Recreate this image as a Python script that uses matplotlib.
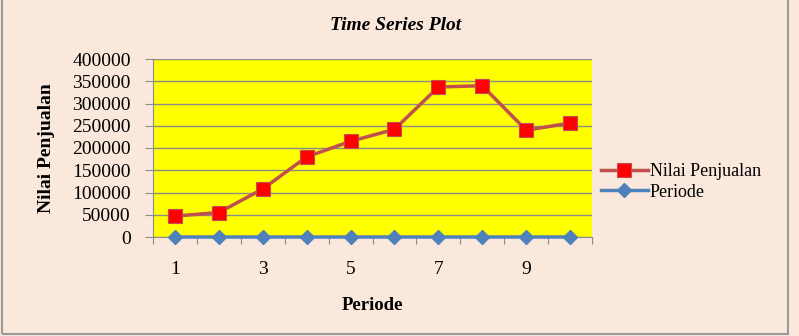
import matplotlib.pyplot as plt
from matplotlib.patches import Rectangle

periode = [1, 2, 3, 4, 5, 6, 7, 8, 9, 10]
nilai_penjualan = [47000, 55000, 108000, 180000, 215000, 242000, 337000, 340000, 240000, 256000]
xtick_labels = ['1', '3', '5', '7', '9']
yticks = [0, 50000, 100000, 150000, 200000, 250000, 300000, 350000, 400000]

plt.rcParams['font.family'] = ['Liberation Serif', 'DejaVu Serif']

bg = '#fbe8dc'
fig = plt.figure(figsize=(7.99, 3.36), dpi=100, facecolor=bg)
ax = fig.add_axes([153/799, 1-237/336, (592-153)/799, (237-59)/336])
ax.set_facecolor('#ffff00')

ax.plot(periode, nilai_penjualan, color='#c0504d', lw=2.5, marker='s', ms=10,
        mfc='#ff0000', mec='#c0504d', mew=0.8, label='Nilai Penjualan', zorder=3)
ax.plot(periode, periode, color='#4f81bd', lw=2.5, marker='D', ms=7,
        mfc='#4f81bd', mec='#4f81bd', label='Periode', zorder=3, clip_on=False)

ax.set_xlim(0.5, 10.5)
ax.set_ylim(0, 400000)
ax.set_yticks(yticks)
ax.set_yticklabels([str(v) for v in yticks], fontsize=14)
ax.set_xticks([0.5 + i for i in range(11)])
ax.set_xticklabels([])
ax.set_xticks([1, 3, 5, 7, 9], minor=True)
ax.set_xticklabels(xtick_labels, minor=True, fontsize=14)
ax.tick_params(axis='x', which='minor', length=0, pad=17)
ax.tick_params(axis='x', which='major', length=5, color='#8c8c8c')
ax.tick_params(axis='y', length=6, color='#8c8c8c', pad=10)
ax.grid(axis='y', color='#8c8c8c', lw=1)
ax.set_axisbelow(True)
for s in ['top', 'right']:
    ax.spines[s].set_visible(False)
for s in ['left', 'bottom']:
    ax.spines[s].set_color('#8c8c8c')

ax.set_xlabel('Periode', fontsize=13.5, fontweight='bold', labelpad=14)
ax.set_ylabel('Nilai Penjualan', fontsize=14, fontweight='bold', labelpad=12)
fig.text(0.495, 1-25/336, 'Time Series Plot', ha='center', va='center',
         fontsize=14, fontweight='bold', style='italic')

ax.legend(loc='center left', bbox_to_anchor=(1.02, 0.31), frameon=False,
          fontsize=13, handlelength=2.6, handletextpad=0.1, labelspacing=0.2,
          borderpad=0, borderaxespad=0)

fig.patches.append(Rectangle((0.002, 0.006), 0.984, 1.2, transform=fig.transFigure,
                             fill=False, ec='#9a9a9a', lw=1.5))

fig.savefig('out.png', dpi=100, facecolor=bg)
